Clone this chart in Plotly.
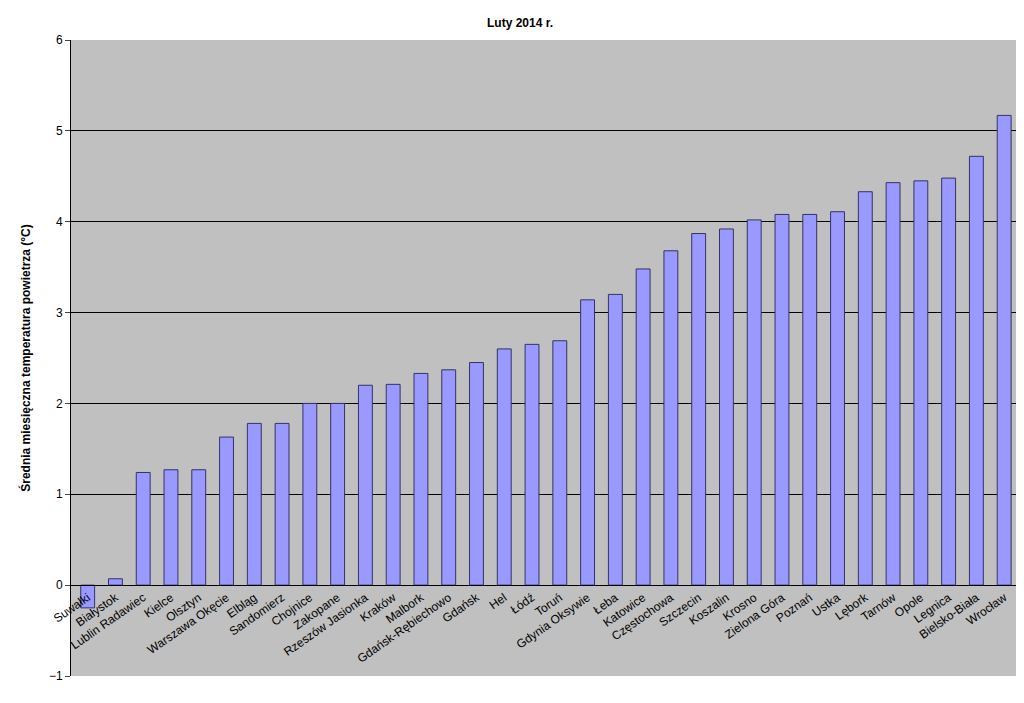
import plotly.graph_objects as go

stations = ["Suwałki", "Białystok", "Lublin Radawiec", "Kielce", "Olsztyn", "Warszawa Okęcie",
            "Elbląg", "Sandomierz", "Chojnice", "Zakopane", "Rzeszów Jasionka", "Kraków",
            "Malbork", "Gdańsk-Rębiechowo", "Gdańsk", "Hel", "Łódź", "Toruń", "Gdynia Oksywie",
            "Łeba", "Katowice", "Częstochowa", "Szczecin", "Koszalin", "Krosno", "Zielona Góra",
            "Poznań", "Ustka", "Lębork", "Tarnów", "Opole", "Legnica", "Bielsko-Biała", "Wrocław"]
temps = [-0.25, 0.07, 1.24, 1.27, 1.27, 1.63, 1.78, 1.78, 2.0, 2.0, 2.2, 2.21, 2.33, 2.37,
         2.45, 2.6, 2.65, 2.69, 3.14, 3.2, 3.48, 3.68, 3.87, 3.92, 4.02, 4.08, 4.08, 4.11,
         4.33, 4.43, 4.45, 4.48, 4.72, 5.17]

fig = go.Figure()
fig.add_trace(go.Bar(x=stations, y=temps, marker=dict(color="#9999ff", line=dict(color="#333366", width=1))))
fig.update_layout(
    width=1024, height=703,
    title=dict(text="<b>Luty 2014 r.</b>", x=0.5, y=0.985, font=dict(size=12, family="Arial", color="black")),
    paper_bgcolor="white", plot_bgcolor="#c0c0c0",
    margin=dict(l=63, r=7, t=32, b=35, autoexpand=False),
    bargap=0.5, showlegend=False,
    font=dict(family="Arial", size=12, color="black"),
)
fig.update_yaxes(range=[-1, 6], dtick=1, showgrid=True, gridcolor="black", gridwidth=1,
                 zeroline=False, showline=True, linecolor="black", ticks="outside",
                 title=dict(text="<b>Średnia miesięczna temperatura powietrza (°C)</b>", font=dict(size=12)))
fig.update_xaxes(tickangle=-35, showline=True, linecolor="black", ticks="", anchor="free",
                 position=0.143, range=[-0.6, 33.75])
fig.write_html("out.html")
